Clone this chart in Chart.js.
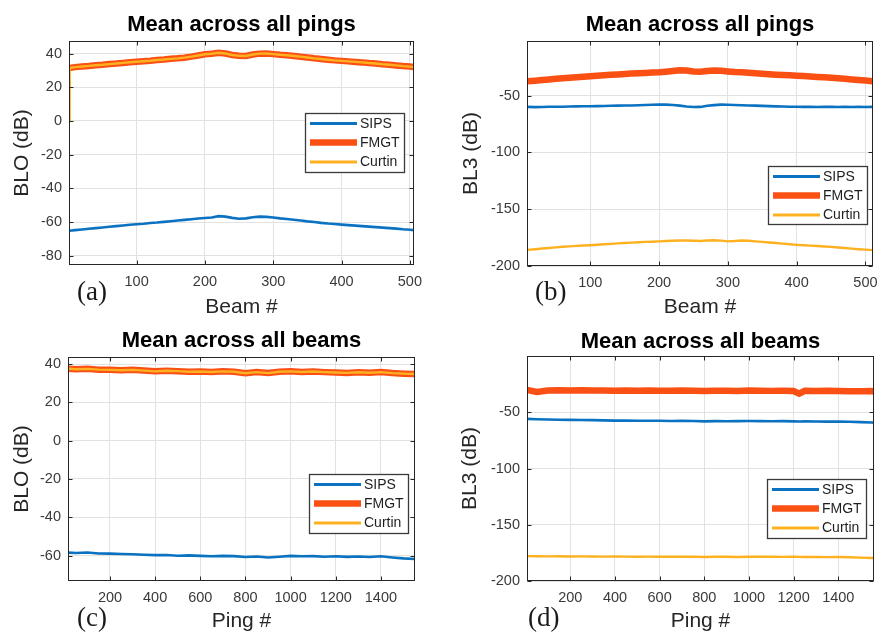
<!DOCTYPE html>
<html><head><meta charset="utf-8">
<script src="https://cdn.jsdelivr.net/npm/chart.js@4.4.0/dist/chart.umd.min.js"></script>
<style>
html,body{margin:0;padding:0;background:#fff;overflow:hidden;}
#wrap{position:relative;width:878px;height:637px;background:#fff;overflow:hidden;}
canvas{position:absolute;}
.tag{position:absolute;font-family:"Liberation Serif","Times New Roman",serif;font-size:27px;line-height:27px;color:#1a1a1a;white-space:nowrap;}
</style></head><body>
<div id="wrap">
<canvas id="cA" width="439" height="322" style="left:0;top:0"></canvas>
<canvas id="cB" width="439" height="322" style="left:439px;top:0"></canvas>
<canvas id="cC" width="439" height="319" style="left:0;top:318px"></canvas>
<canvas id="cD" width="439" height="319" style="left:439px;top:318px"></canvas>
<div class="tag" style="left:77px;top:278px">(a)</div>
<div class="tag" style="left:535px;top:278px">(b)</div>
<div class="tag" style="left:77px;top:604px">(c)</div>
<div class="tag" style="left:528px;top:604px">(d)</div>
</div>
<script>
// ---------- DATA ----------
const seriesNames = ["SIPS", "FMGT", "Curtin"];

// (a) Mean across all pings, BLO
const beamA = [1,10,20,30,40,50,60,70,80,90,100,110,120,130,140,150,160,170,180,190,200,210,220,230,240,250,260,270,280,290,300,310,320,330,340,350,360,370,380,390,400,410,420,430,440,450,460,470,480,490,500,506];
const beamA_curtin = [1,2,10,20,30,40,50,60,70,80,90,100,110,120,130,140,150,160,170,180,190,200,210,220,230,240,250,260,270,280,290,300,310,320,330,340,350,360,370,380,390,400,410,420,430,440,450,460,470,480,490,500,506];
const sipsA = [-65.2,-64.8,-64.4,-64.0,-63.6,-63.2,-62.8,-62.4,-62.0,-61.6,-61.3,-61.0,-60.6,-60.3,-59.9,-59.5,-59.1,-58.7,-58.3,-57.9,-57.6,-57.3,-56.5,-56.8,-57.5,-58.0,-57.8,-57.1,-56.8,-56.9,-57.3,-57.8,-58.2,-58.6,-59.1,-59.6,-60.0,-60.5,-60.9,-61.2,-61.5,-61.8,-62.1,-62.4,-62.7,-63.0,-63.3,-63.6,-63.9,-64.3,-64.6,-64.8];
const fmgtA = [31.5,32.0,32.4,32.7,33.1,33.4,33.8,34.1,34.5,34.9,35.2,35.5,35.8,36.2,36.5,36.9,37.2,37.6,38.2,38.9,39.6,39.9,40.5,40.1,39.2,38.7,38.6,39.5,40.0,40.1,39.7,39.3,39.0,38.6,38.2,37.7,37.2,36.8,36.4,36.0,35.7,35.4,35.1,34.8,34.4,34.1,33.7,33.4,33.0,32.6,32.3,32.0];
const curtinA = [0,31.5,32.0,32.4,32.7,33.1,33.4,33.8,34.1,34.5,34.9,35.2,35.5,35.8,36.2,36.5,36.9,37.2,37.6,38.2,38.9,39.6,39.9,40.5,40.1,39.2,38.7,38.6,39.5,40.0,40.1,39.7,39.3,39.0,38.6,38.2,37.7,37.2,36.8,36.4,36.0,35.7,35.4,35.1,34.8,34.4,34.1,33.7,33.4,33.0,32.6,32.3,32.0];

// (b) Mean across all pings, BL3
const beamB = [8,20,30,40,50,60,70,80,90,100,110,120,130,140,150,160,170,180,190,200,210,220,230,240,250,260,270,280,290,300,310,320,330,340,350,360,370,380,390,400,410,420,430,440,450,460,470,480,490,500,510];
const sipsB = [-60.0,-60.2,-60.1,-59.9,-59.8,-59.8,-59.6,-59.5,-59.4,-59.4,-59.3,-59.2,-59.0,-58.9,-58.8,-58.7,-58.5,-58.3,-58.1,-57.9,-58.0,-58.3,-58.9,-59.6,-60.1,-60.0,-59.0,-58.4,-58.0,-58.1,-58.3,-58.5,-58.7,-58.9,-59.1,-59.3,-59.5,-59.6,-59.8,-59.9,-60.0,-60.0,-60.1,-60.0,-60.0,-60.1,-60.0,-60.1,-60.0,-60.1,-60.0];
const fmgtB = [-37.5,-36.9,-36.3,-35.8,-35.3,-34.8,-34.3,-33.9,-33.4,-33.0,-32.6,-32.2,-31.8,-31.4,-31.0,-30.7,-30.4,-30.1,-29.8,-29.5,-29.0,-28.4,-27.8,-28.0,-28.9,-29.0,-28.5,-28.0,-28.2,-28.8,-29.3,-29.6,-30.0,-30.4,-30.8,-31.2,-31.6,-31.9,-32.2,-32.5,-32.9,-33.3,-33.7,-34.0,-34.4,-34.8,-35.3,-35.8,-36.3,-36.8,-37.4];
const curtinB = [-185.8,-185.2,-184.6,-184.1,-183.6,-183.1,-182.7,-182.3,-182.0,-181.7,-181.3,-180.9,-180.5,-180.1,-179.7,-179.4,-179.1,-178.8,-178.6,-178.3,-178.0,-177.8,-177.6,-177.5,-177.8,-178.0,-177.6,-177.4,-177.7,-178.3,-178.0,-177.5,-177.8,-178.3,-178.8,-179.3,-179.8,-180.3,-180.9,-181.4,-181.8,-182.1,-182.4,-182.8,-183.2,-183.7,-184.2,-184.7,-185.2,-185.6,-186.0];

// (c) Mean across all beams, BLO
const pingC = [14,50,100,150,200,250,300,350,400,450,500,550,600,650,700,750,800,850,900,950,1000,1050,1100,1150,1200,1250,1300,1350,1400,1450,1500,1550];
const sipsC = [-58.5,-58.7,-58.4,-58.9,-59.0,-59.2,-59.3,-59.6,-59.8,-59.7,-60.1,-59.9,-60.2,-60.4,-60.2,-60.3,-60.8,-60.5,-61.0,-60.6,-60.2,-60.4,-60.3,-60.6,-60.4,-60.7,-60.5,-60.8,-60.4,-61.0,-61.5,-61.8];
const fmgtC = [37.6,37.3,37.5,37.1,37.0,36.8,37.0,36.6,36.2,36.5,36.3,36.0,36.1,35.9,36.2,36.0,35.2,35.8,35.3,36.0,36.2,35.9,36.1,35.8,35.6,35.4,35.7,35.5,35.8,35.3,35.0,34.8];
const curtinC = [37.6,37.3,37.5,37.1,37.0,36.8,37.0,36.6,36.2,36.5,36.3,36.0,36.1,35.9,36.2,36.0,35.2,35.8,35.3,36.0,36.2,35.9,36.1,35.8,35.6,35.4,35.7,35.5,35.8,35.3,35.0,34.8];

// (d) Mean across all beams, BL3
const pingD = [6,50,100,150,200,250,300,350,400,450,500,550,600,650,700,750,800,850,900,950,1000,1050,1100,1150,1200,1225,1250,1300,1350,1400,1450,1500,1550,1558];
const sipsD = [-55.9,-56.2,-56.4,-56.6,-56.8,-56.9,-57.0,-57.2,-57.4,-57.3,-57.5,-57.6,-57.6,-57.8,-57.7,-57.8,-58.1,-57.9,-58.0,-57.9,-57.8,-57.9,-58.0,-57.9,-58.1,-58.2,-58.0,-58.2,-58.3,-58.2,-58.5,-58.8,-59.1,-59.2];
const fmgtD = [-30.2,-31.9,-30.6,-30.4,-30.6,-30.5,-30.7,-30.6,-30.8,-30.6,-30.9,-30.7,-30.8,-30.9,-30.6,-30.8,-31.0,-30.9,-30.8,-31.0,-30.7,-30.9,-31.0,-30.9,-31.1,-33.5,-31.0,-31.1,-30.9,-31.2,-31.3,-31.4,-31.2,-31.5];
const curtinD = [-177.9,-178.0,-178.1,-178.0,-178.2,-178.1,-178.2,-178.3,-178.2,-178.3,-178.4,-178.3,-178.4,-178.5,-178.4,-178.3,-178.6,-178.5,-178.4,-178.6,-178.5,-178.4,-178.5,-178.6,-178.5,-178.6,-178.7,-178.6,-178.8,-178.7,-178.9,-179.2,-179.5,-179.6];

// tick labels
const beamTicks = [100,200,300,400,500];
const pingTicks = [200,400,600,800,1000,1200,1400];
const bloTicksA = [-80,-60,-40,-20,0,20,40];
const bloTicksC = [-60,-40,-20,0,20,40];
const bl3Ticks = [-200,-150,-100,-50];

// ---------- STYLE ----------
const COL = {SIPS:'#0b72c2', FMGT:'#fa5014', Curtin:'#fdb120'};
const WID = {SIPS:2.6, FMGT:6.5, Curtin:2.4};
const ORD = {SIPS:1, FMGT:2, Curtin:0};
const SANS = '"Liberation Sans", Arial, Helvetica, sans-serif';

const matPlugin = {
  id: 'matFrame',
  afterDatasetsDraw(chart, args, opts) {
    const {ctx, chartArea: a, scales} = chart;
    ctx.save();
    ctx.strokeStyle = '#262626';
    ctx.lineWidth = 1;
    const L = Math.round(a.left)+0.5, T = Math.round(a.top)+0.5, R = Math.round(a.right)-0.5, B = Math.round(a.bottom)-0.5;
    ctx.strokeRect(L, T, R-L, B-T);
    const tl = 4;
    ctx.beginPath();
    scales.x.ticks.forEach(t => {
      const px = Math.round(scales.x.getPixelForValue(t.value))+0.5;
      ctx.moveTo(px, B); ctx.lineTo(px, B-tl);
      ctx.moveTo(px, T); ctx.lineTo(px, T+tl);
    });
    scales.y.ticks.forEach(t => {
      const py = Math.round(scales.y.getPixelForValue(t.value))+0.5;
      ctx.moveTo(L, py); ctx.lineTo(L+tl, py);
      ctx.moveTo(R, py); ctx.lineTo(R-tl, py);
    });
    ctx.stroke();
    // legend box
    const bx = opts.x, by = opts.y, bw = opts.w, bh = opts.h;
    ctx.fillStyle = '#fff';
    ctx.fillRect(bx, by, bw, bh);
    ctx.strokeStyle = '#3a3a3a';
    ctx.lineWidth = 1.3;
    ctx.strokeRect(bx+0.5, by+0.5, bw, bh);
    ctx.font = '14px ' + SANS;
    ctx.textBaseline = 'middle';
    ctx.textAlign = 'left';
    const rows = [10.6, 29.6, 49];
    chart.data.datasets.forEach((ds, i) => {
      const yy = by + rows[i];
      ctx.strokeStyle = ds.borderColor;
      ctx.lineWidth = ds.label === 'FMGT' ? 6.5 : 3;
      ctx.beginPath();
      ctx.moveTo(bx+5, yy); ctx.lineTo(bx+52, yy);
      ctx.stroke();
      ctx.fillStyle = '#1e1e1e';
      ctx.fillText(ds.label, bx+55, yy+0.5);
    });
    ctx.restore();
  }
};

function pts(xs, ys){ return xs.map((x,i)=>({x:x, y:ys[i]})); }

function makeChart(id, g) {
  const datasets = g.series.map(s => ({
    label: s.name,
    data: pts(s.x, s.y),
    borderColor: COL[s.name],
    backgroundColor: COL[s.name],
    borderWidth: WID[s.name],
    order: ORD[s.name],
    pointRadius: 0,
    tension: 0,
    fill: false
  }));
  return new Chart(document.getElementById(id), {
    type: 'line',
    data: {datasets},
    plugins: [matPlugin],
    options: {
      responsive: false,
      animation: false,
      devicePixelRatio: 1,
      layout: {padding: {left: 0, right: g.padR, top: 0, bottom: 0}},
      plugins: {
        legend: {display: false},
        tooltip: {enabled: false},
        title: {
          display: true, text: g.title, fullSize: false,
          color: '#000',
          font: {family: SANS, size: 22, weight: 'bold', lineHeight: 1.2},
          padding: {top: g.tPadTop, bottom: g.tPadBot}
        },
        matFrame: g.legend
      },
      scales: {
        x: {
          type: 'linear', position: 'bottom',
          min: g.xmin, max: g.xmax,
          afterBuildTicks: s => { s.ticks = g.xticks.map(v => ({value: v})); },
          afterFit: s => { s.height = g.xH; s.paddingLeft = 0; s.paddingRight = 0; },
          grid: {color: '#e2e2e2', lineWidth: 1, drawTicks: false},
          border: {display: false},
          ticks: {
            autoSkip: false, maxRotation: 0, minRotation: 0, padding: 8,
            color: '#3a3a3a', font: {family: SANS, size: 14.5},
            callback: v => String(v)
          },
          title: {
            display: true, text: g.xtitle, color: '#262626',
            font: {family: SANS, size: 21, lineHeight: 1.2},
            padding: {top: 0, bottom: g.xtPad}
          }
        },
        y: {
          type: 'linear', position: 'left',
          min: g.ymin, max: g.ymax,
          afterBuildTicks: s => { s.ticks = g.yticks.map(v => ({value: v})); },
          afterFit: s => { s.width = g.yW; s.paddingTop = 0; s.paddingBottom = 0; },
          grid: {color: '#e2e2e2', lineWidth: 1, drawTicks: false},
          border: {display: false},
          ticks: {
            autoSkip: false, padding: 7,
            color: '#3a3a3a', font: {family: SANS, size: 14.5},
            callback: v => String(v)
          },
          title: {
            display: true, text: g.ytitle, color: '#262626',
            font: {family: SANS, size: 21, lineHeight: 1.2},
            padding: {top: g.ytPad, bottom: 0}
          }
        }
      }
    }
  });
}

makeChart('cA', {
  title: 'Mean across all pings', xtitle: 'Beam #', ytitle: 'BLO (dB)',
  xmin: 1, xmax: 506, ymin: -85.5, ymax: 47.5,
  xticks: beamTicks, yticks: bloTicksA,
  padR: 25, yW: 69, xH: 57, tPadTop: 11.5, tPadBot: 3.1, xtPad: 2, ytPad: 9.4,
  legend: {x: 305, y: 113, w: 99, h: 59},
  series: [
    {name: 'SIPS', x: beamA, y: sipsA},
    {name: 'FMGT', x: beamA, y: fmgtA},
    {name: 'Curtin', x: beamA_curtin, y: curtinA}
  ]
});
makeChart('cB', {
  title: 'Mean across all pings', xtitle: 'Beam #', ytitle: 'BL3 (dB)',
  xmin: 8, xmax: 511, ymin: -200, ymax: -2,
  xticks: beamTicks, yticks: bl3Ticks,
  padR: 5, yW: 88, xH: 56, tPadTop: 11.5, tPadBot: 3.1, xtPad: 2, ytPad: 19.4,
  legend: {x: 329, y: 166, w: 99, h: 58},
  series: [
    {name: 'SIPS', x: beamB, y: sipsB},
    {name: 'FMGT', x: beamB, y: fmgtB},
    {name: 'Curtin', x: beamB, y: curtinB}
  ]
});
makeChart('cC', {
  title: 'Mean across all beams', xtitle: 'Ping #', ytitle: 'BLO (dB)',
  xmin: 14, xmax: 1551, ymin: -73.3, ymax: 43.7,
  xticks: pingTicks, yticks: bloTicksC,
  padR: 24, yW: 68, xH: 56, tPadTop: 9.5, tPadBot: 3.1, xtPad: 3, ytPad: 9.4,
  legend: {x: 309, y: 156, w: 99, h: 59},
  series: [
    {name: 'SIPS', x: pingC, y: sipsC},
    {name: 'FMGT', x: pingC, y: fmgtC},
    {name: 'Curtin', x: pingC, y: curtinC}
  ]
});
makeChart('cD', {
  title: 'Mean across all beams', xtitle: 'Ping #', ytitle: 'BL3 (dB)',
  xmin: 6, xmax: 1560, ymin: -200, ymax: 0,
  xticks: pingTicks, yticks: bl3Ticks,
  padR: 4, yW: 88, xH: 56, tPadTop: 10.5, tPadBot: 1.1, xtPad: 3, ytPad: 19,
  legend: {x: 328, y: 161, w: 99, h: 59},
  series: [
    {name: 'SIPS', x: pingD, y: sipsD},
    {name: 'FMGT', x: pingD, y: fmgtD},
    {name: 'Curtin', x: pingD, y: curtinD}
  ]
});
</script>
</body></html>
